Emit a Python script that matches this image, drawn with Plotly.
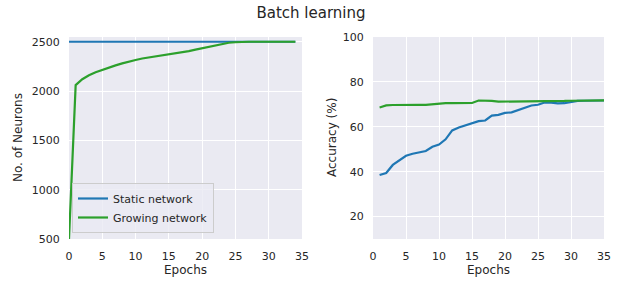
import plotly.graph_objects as go

# Left panel: number of neurons
epochs_left = list(range(0, 35))
static_neurons = [2500] * 35
growing_neurons = [500, 2060, 2120, 2160, 2190, 2215, 2240, 2260, 2280, 2300,
                   2315, 2330, 2340, 2350, 2360, 2370, 2385, 2395, 2405, 2420,
                   2435, 2445, 2465, 2480, 2490, 2495, 2500, 2500, 2500, 2500,
                   2500, 2500, 2500, 2500, 2500]

# Right panel: accuracy
epochs_right = list(range(1, 36))
static_acc = [38.5, 39.4, 43.0, 45.0, 47.1, 48.0, 48.7, 49.2, 51.1, 52.1,
              54.4, 58.4, 59.7, 60.7, 61.8, 62.5, 62.8, 65.0, 65.3, 66.2,
              66.4, 67.4, 68.4, 69.5, 69.8, 70.8, 70.8, 70.4, 70.5, 71.0,
              71.5, 71.6, 71.6, 71.6, 71.7]
growing_acc = [68.6, 69.5, 69.7, 69.8, 69.8, 69.8, 69.8, 69.8, 70.1, 70.1,
               70.5, 70.5, 70.5, 70.6, 70.6, 71.7, 71.7, 71.5, 71.2, 71.2,
               71.2, 71.2, 71.2, 71.2, 71.3, 71.5, 71.5, 71.5, 71.5, 71.6,
               71.6, 71.6, 71.6, 71.7, 71.8]

left_ticks_x = [0, 5, 10, 15, 20, 25, 30, 35]
left_ticks_y = [500, 1000, 1500, 2000, 2500]
right_ticks_y = [20, 40, 60, 80, 100]

BLUE = "#1f77b4"
GREEN = "#2ca02c"
BG = "#EAEAF2"
TXT = "#262626"
FONT = "DejaVu Sans"
W, H = 623, 282


def px(x):
    return x / W


def py(y):
    return 1 - y / H


fig = go.Figure()
fig.add_trace(go.Scatter(x=epochs_left, y=static_neurons, mode="lines", name="Static network",
                         line=dict(color=BLUE, width=2.2), xaxis="x", yaxis="y"))
fig.add_trace(go.Scatter(x=epochs_left, y=growing_neurons, mode="lines", name="Growing network",
                         line=dict(color=GREEN, width=2.2), xaxis="x", yaxis="y"))
fig.add_trace(go.Scatter(x=epochs_right, y=static_acc, mode="lines", showlegend=False,
                         line=dict(color=BLUE, width=2.2), xaxis="x2", yaxis="y2"))
fig.add_trace(go.Scatter(x=epochs_right, y=growing_acc, mode="lines", showlegend=False,
                         line=dict(color=GREEN, width=2.2), xaxis="x2", yaxis="y2"))

axis_common = dict(showgrid=True, gridcolor="white", gridwidth=1, zeroline=False,
                   showline=False, ticks="outside", tickcolor="rgba(0,0,0,0)",
                   automargin=False, tickfont=dict(size=11, color=TXT, family=FONT))

ydom = [py(239), py(37)]
fig.update_layout(
    width=W, height=H,
    margin=dict(l=0, r=0, t=0, b=0),
    paper_bgcolor="white", plot_bgcolor=BG,
    font=dict(family=FONT, color=TXT, size=11),
    title=dict(text="Batch learning", x=px(311), xanchor="center", y=py(12.5), yanchor="middle",
               yref="container", font=dict(size=15, color=TXT, family=FONT)),
    xaxis=dict(domain=[px(69), px(302)], range=[0, 35], tickvals=left_ticks_x,
               ticklen=7, anchor="y", **axis_common),
    yaxis=dict(domain=ydom, range=[500, 2548], tickvals=left_ticks_y,
               ticklen=6, anchor="x", **axis_common),
    xaxis2=dict(domain=[px(373), px(604)], range=[0, 35], tickvals=left_ticks_x,
                ticklen=7, anchor="y2", **axis_common),
    yaxis2=dict(domain=ydom, range=[10, 100], tickvals=right_ticks_y,
                ticklen=6, anchor="x2", **axis_common),
    legend=dict(x=px(72), xref="paper", y=py(233), yref="paper",
                yanchor="bottom", xanchor="left",
                bgcolor="rgba(234,234,242,0.8)", bordercolor="#CCCCCC", borderwidth=1,
                font=dict(size=11, color=TXT, family=FONT), tracegroupgap=0),
    annotations=[
        dict(text="Epochs", x=px((69 + 302) / 2), y=py(270), xref="paper", yref="paper",
             showarrow=False, xanchor="center", yanchor="middle", font=dict(size=12, color=TXT)),
        dict(text="Epochs", x=px((373 + 604) / 2), y=py(270), xref="paper", yref="paper",
             showarrow=False, xanchor="center", yanchor="middle", font=dict(size=12, color=TXT)),
        dict(text="No. of Neurons", x=px(18), y=py(138), xref="paper", yref="paper",
             showarrow=False, xanchor="center", yanchor="middle", textangle=-90,
             font=dict(size=12, color=TXT)),
        dict(text="Accuracy (%)", x=px(332), y=py(138), xref="paper", yref="paper",
             showarrow=False, xanchor="center", yanchor="middle", textangle=-90,
             font=dict(size=12, color=TXT)),
    ],
)

fig.write_html("out.html", config={"displayModeBar": False},
               post_script="document.body.style.margin='0';document.body.style.overflow='hidden';")
